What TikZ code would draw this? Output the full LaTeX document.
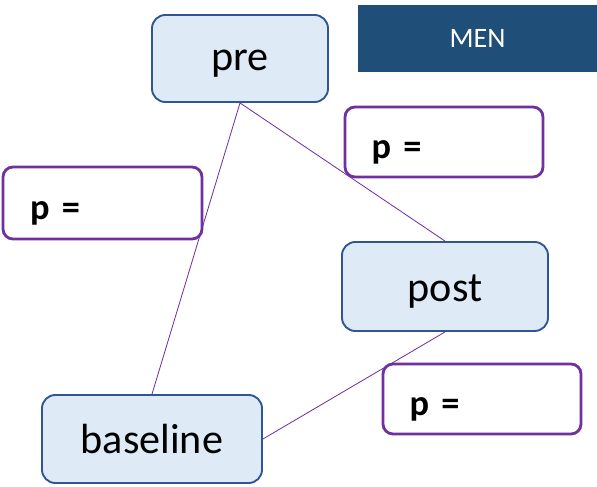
\documentclass[tikz,border=0pt]{standalone}
\usepackage{fontspec}
\setmainfont{Carlito}
\usepackage{xcolor}
\usetikzlibrary{calc}
\definecolor{boxblue}{HTML}{DEEBF7}
\definecolor{edgeblue}{HTML}{2F5597}
\definecolor{darkblue}{HTML}{1F4E79}
\definecolor{pval}{HTML}{7030A0}
\newcommand{\lowered}[2]{\raisebox{-#1}[\height][\depth]{#2}}

\begin{document}
\begin{tikzpicture}[x=0.03cm,y=-0.03cm]
% Fix the page to the size of the slide.
\useasboundingbox (0,0) rectangle (597,487);

% This determines how the time points look.
\tikzstyle{tpoint}=[draw=edgeblue,fill=boxblue,line width=1.6pt,rounded corners=0.4cm,
font=\fontsize{36}{40}\selectfont]

% This determines how the p value boxes look.
\tikzstyle{pbox}=[draw=pval,fill=white,line width=2.4pt,rounded corners=0.3cm,
minimum width=5.94cm,minimum height=2.1cm,inner xsep=0.8cm,text width=4.34cm,align=left,
font=\fontsize{31}{34}\selectfont\bfseries]

% This draws the time points.
\node[tpoint,minimum width=5.28cm,minimum height=2.61cm] (pre) at (240,58.5) {\lowered{0.15cm}{pre}};
\node[tpoint,minimum width=6.18cm,minimum height=2.67cm] (post) at (445,286.5) {\lowered{0.15cm}{post}};
\node[tpoint,minimum width=6.6cm,minimum height=2.64cm] (base) at (152,439) {baseline};

% This draws the title box.
\node[fill=darkblue,text=white,minimum width=7.17cm,minimum height=2.01cm,
font=\fontsize{24}{28}\selectfont] (men) at (477.5,38.5) {MEN};

% This draws the connections.
\draw[pval,line width=0.7pt] (pre.south) -- (base.north);
\draw[pval,line width=0.7pt] (pre.south) -- (post.north);
\draw[pval,line width=0.7pt] (post.south) -- (base.east);

% This draws the p values.
\node[pbox] (P1) at (444,142) {\lowered{0.3cm}{p =}};
\node[pbox,minimum width=5.97cm,minimum height=2.16cm] (P2) at (102.5,203) {\lowered{0.3cm}{p =}};
\node[pbox] (P3) at (482,399) {\lowered{0.3cm}{p =}};
\end{tikzpicture}
\end{document}
